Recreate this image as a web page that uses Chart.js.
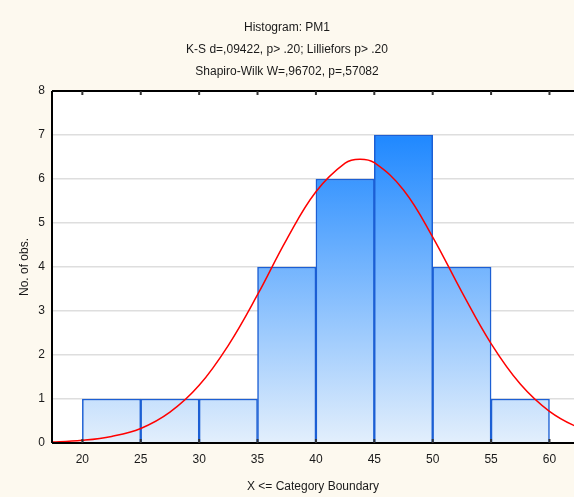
<!DOCTYPE html>
<html>
<head>
<meta charset="utf-8">
<script src="https://cdn.jsdelivr.net/npm/chart.js@4"></script>
<style>
  html, body { margin: 0; padding: 0; background: #fdf9ef; }
  #wrap { width: 574px; height: 497px; }
</style>
</head>
<body>
<div id="wrap"><canvas id="hist"></canvas></div>
<script>
/* ── DATA ── */
const binCenters = [22.5, 27.5, 32.5, 37.5, 42.5, 47.5, 52.5, 57.5];
const binCounts  = [1, 1, 1, 4, 6, 7, 4, 1];
const xTicks     = [20, 25, 30, 35, 40, 45, 50, 55, 60];

// normal curve
const curveX = [15, 17.5, 20, 22.5, 25, 27.5, 30, 32.5, 35, 37.5, 40, 42.5, 43.75, 45, 47.5, 50, 52.5, 55, 57.5, 60, 62.5, 65];
const curveY = [0.0, 0.02, 0.06, 0.15, 0.33, 0.70, 1.31, 2.22, 3.37, 4.63, 5.71, 6.36, 6.45, 6.37, 5.75, 4.68, 3.43, 2.26, 1.34, 0.72, 0.35, 0.15];

const titleLines = [
  'Histogram: PM1',
  'K-S d=,09422, p> .20; Lilliefors p> .20',
  'Shapiro-Wilk W=,96702, p=,57082'
];

const FONT = "'Liberation Sans', Arial, sans-serif";
const INK  = '#1a1a1a';

/* ── HELPERS ── */

function barGradient(ctx) {
  const chart = ctx.chart;
  const area  = chart.chartArea;
  if (!area) return '#9cc8f8';
  const yTop = chart.scales.y.getPixelForValue(7);
  const g = chart.ctx.createLinearGradient(0, area.bottom, 0, yTop);
  g.addColorStop(0, '#e3effc');
  g.addColorStop(1, '#1f88ff');
  return g;
}

// cream page, white plot, black frame with inward ticks
const framePlugin = {
  id: 'frame',
  beforeDraw(chart) {
    const { ctx, chartArea: a } = chart;
    ctx.save();
    ctx.fillStyle = '#fdf9ef';
    ctx.fillRect(0, 0, chart.width, chart.height);
    ctx.fillStyle = '#ffffff';
    ctx.fillRect(a.left, a.top, a.right - a.left, a.bottom - a.top);
    ctx.restore();
  },
  afterDraw(chart) {
    const { ctx, chartArea: a, scales } = chart;
    ctx.save();
    ctx.strokeStyle = '#000';
    ctx.lineWidth = 2;
    ctx.beginPath();
    ctx.moveTo(a.left, a.top); ctx.lineTo(a.right, a.top);
    ctx.moveTo(a.left, a.top); ctx.lineTo(a.left, a.bottom);
    ctx.moveTo(a.left, a.bottom); ctx.lineTo(a.right, a.bottom);
    ctx.stroke();
    ctx.strokeStyle = '#333';
    ctx.lineWidth = 2;
    ctx.beginPath();
    xTicks.forEach(v => {
      const px = scales.x.getPixelForValue(v);
      ctx.moveTo(px, a.top); ctx.lineTo(px, a.top + 4);
      ctx.moveTo(px, a.bottom); ctx.lineTo(px, a.bottom - 4);
    });
    ctx.stroke();
    ctx.restore();
  }
};

/* ── CHART ── */

new Chart(document.getElementById('hist'), {
  type: 'bar',
  data: {
    datasets: [
      {
        type: 'line',
        data: curveX.map((x, i) => ({ x, y: curveY[i] })),
        borderColor: '#ff0000',
        borderWidth: 1.5,
        pointRadius: 0,
        tension: 0.4,
        fill: false,
        order: 0
      },
      {
        type: 'bar',
        data: binCenters.map((x, i) => ({ x, y: binCounts[i] })),
        backgroundColor: barGradient,
        borderColor: '#1c5fd4',
        borderWidth: 1.5,
        barPercentage: 1,
        categoryPercentage: 1,
        order: 1
      }
    ]
  },
  options: {
    responsive: true,
    maintainAspectRatio: false,
    animation: false,
    layout: { padding: 0 },
    plugins: {
      legend: { display: false },
      tooltip: { enabled: false },
      title: {
        display: true,
        text: titleLines,
        color: INK,
        font: { family: FONT, size: 12, weight: 'normal', lineHeight: 22 / 12 },
        padding: { top: 17, bottom: 8 }
      }
    },
    scales: {
      x: {
        type: 'linear',
        min: 17.4,
        max: 62.1,
        offset: false,
        afterBuildTicks: s => { s.ticks = xTicks.map(v => ({ value: v })); },
        afterFit: s => { s.height = 54; },
        grid: { display: false, drawTicks: false },
        border: { display: false },
        ticks: { color: INK, font: { family: FONT, size: 12 }, padding: 9, maxRotation: 0 },
        title: {
          display: true,
          text: 'X <= Category Boundary',
          color: INK,
          font: { family: FONT, size: 12 },
          padding: { top: 0, bottom: 3 }
        }
      },
      y: {
        min: 0,
        max: 8,
        afterFit: s => { s.width = 52; },
        grid: { color: '#dedede', lineWidth: 1.5, drawTicks: false },
        border: { display: false },
        ticks: { stepSize: 1, color: INK, font: { family: FONT, size: 12 }, padding: 7 },
        title: {
          display: true,
          text: 'No. of obs.',
          color: INK,
          font: { family: FONT, size: 12 },
          padding: { top: 17, bottom: 0 }
        }
      }
    }
  },
  plugins: [framePlugin]
});
</script>
</body>
</html>
